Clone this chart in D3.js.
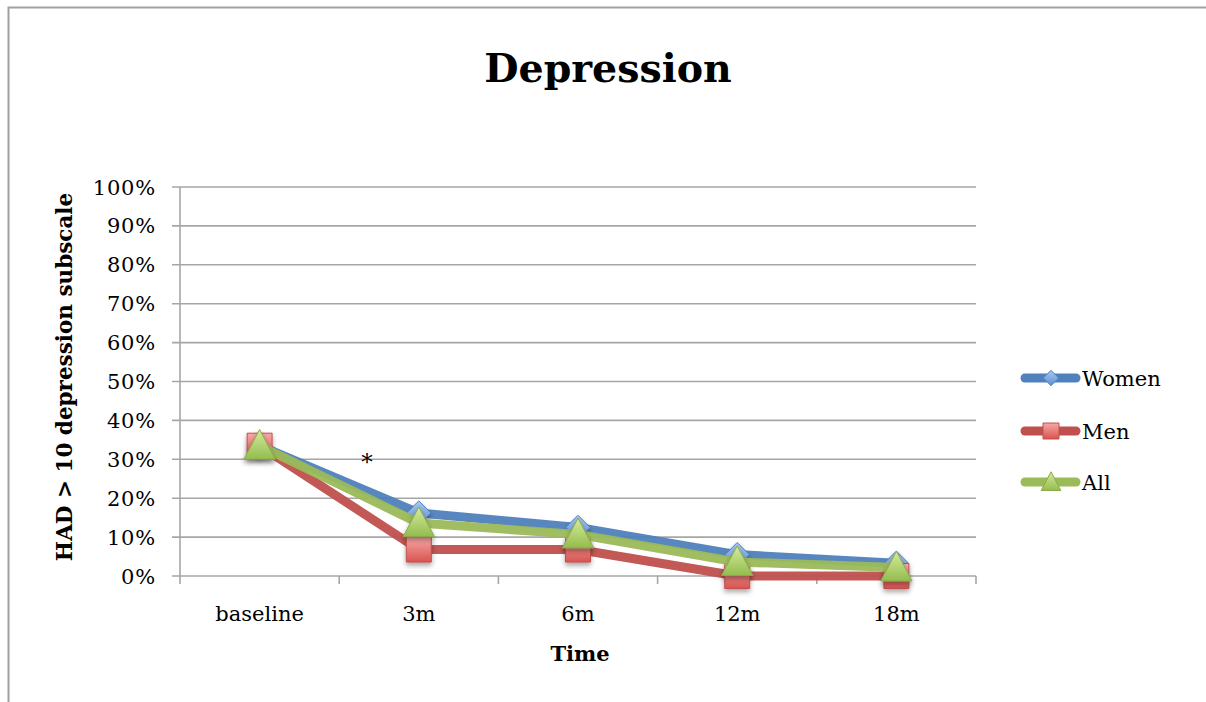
<!DOCTYPE html>
<html><head><meta charset="utf-8">
<script src="https://cdn.jsdelivr.net/npm/d3@7"></script>
<style>body{margin:0;background:#fff}svg{display:block}</style>
</head><body>
<script>
const categories = ["baseline","3m","6m","12m","18m"];
const women = [0.335,0.162,0.125,0.055,0.033];
const men = [0.335,0.068,0.068,0.0,0.0];
const all = [0.335,0.136,0.107,0.036,0.022];
const yTicks = [0,0.1,0.2,0.3,0.4,0.5,0.6,0.7,0.8,0.9,1.0];
const seriesNames = ["Women","Men","All"];

const W=1206,H=702;
const svg=d3.select("body").append("svg").attr("width",W).attr("height",H);
const defs=svg.append("defs");
function grad(id,c1,c2){const g=defs.append("linearGradient").attr("id",id).attr("x1",0).attr("y1",0).attr("x2",0).attr("y2",1);
g.append("stop").attr("offset","0%").attr("stop-color",c1);g.append("stop").attr("offset","100%").attr("stop-color",c2);}
grad("gW","#a9c8f0","#5d8fd3");
grad("gM","#f7a9a7","#d9534f");
grad("gA","#d6eb9c","#93bd4e");
const f=defs.append("filter").attr("id","sh").attr("x","-50%").attr("y","-50%").attr("width","200%").attr("height","200%");
f.append("feDropShadow").attr("dx",0).attr("dy",3).attr("stdDeviation",2.5).attr("flood-color","#000").attr("flood-opacity",0.35);

// frame
svg.append("path").attr("d","M8.5,702 V7.5 H1206").attr("fill","none").attr("stroke","#a0a0a0").attr("stroke-width",2);

const x=d3.scaleBand().domain(categories).range([180,976]);
const y=d3.scaleLinear().domain([0,1]).range([576,187]);
const serif="'DejaVu Serif','Liberation Serif',serif";

// gridlines
svg.append("g").selectAll("line").data(yTicks).join("line")
 .attr("x1",172).attr("x2",976).attr("y1",d=>y(d)).attr("y2",d=>y(d))
 .attr("stroke","#a6a6a6").attr("stroke-width",1.6);
// y axis line
svg.append("line").attr("x1",180).attr("x2",180).attr("y1",y(1)).attr("y2",584).attr("stroke","#a6a6a6").attr("stroke-width",1.6);
// x ticks
const xt=categories.map(c=>x(c)).concat([x.range()[1]]);
svg.append("g").selectAll("line").data(xt.slice(1)).join("line")
 .attr("x1",d=>d).attr("x2",d=>d).attr("y1",576).attr("y2",584).attr("stroke","#a6a6a6").attr("stroke-width",1.6);

// y tick labels
svg.append("g").selectAll("text").data(yTicks).join("text")
 .attr("x",156).attr("y",d=>y(d)).attr("dy","0.36em").attr("text-anchor","end")
 .attr("font-family",serif).attr("font-size",21).attr("letter-spacing",0.8).text(d3.format(".0%"));
// x labels
svg.append("g").selectAll("text").data(categories).join("text")
 .attr("x",d=>x(d)+x.bandwidth()/2).attr("y",621).attr("text-anchor","middle")
 .attr("font-family",serif).attr("font-size",21).text(d=>d);

// titles
svg.append("text").attr("x",608).attr("y",82).attr("text-anchor","middle").attr("font-family",serif)
 .attr("font-weight","bold").attr("font-size",39.5).text("Depression");
svg.append("text").attr("x",580).attr("y",661).attr("text-anchor","middle").attr("font-family",serif)
 .attr("font-weight","bold").attr("font-size",21).text("Time");
svg.append("text").attr("transform","translate(72,377) rotate(-90)").attr("text-anchor","middle").attr("font-family",serif)
 .attr("font-weight","bold").attr("font-size",21.5).text("HAD > 10 depression subscale");
svg.append("text").attr("x",367).attr("y",470).attr("text-anchor","middle").attr("font-family",serif).attr("font-size",23).text("*");

const cx=c=>x(c)+x.bandwidth()/2;
const series=[
 {name:"Women",vals:women,line:"#4f81bd",fill:"url(#gW)",stroke:"#4f81bd",shape:"diamond"},
 {name:"Men",vals:men,line:"#c0504d",fill:"url(#gM)",stroke:"#c0504d",shape:"square"},
 {name:"All",vals:all,line:"#9bbb59",fill:"url(#gA)",stroke:"#8aab4a",shape:"triangle"}
];
function markerPath(shape,s){
 if(shape==="diamond") return `M0,${-s*0.55} L${s*0.55},0 L0,${s*0.55} L${-s*0.55},0Z`;
 if(shape==="square") return `M${-s/2},${-s/2}H${s/2}V${s/2}H${-s/2}Z`;
 return `M0,${-s*0.6} L${s*0.58},${s*0.5} L${-s*0.58},${s*0.5}Z`;
}
const line=d3.line().x(d=>cx(d.c)).y(d=>y(d.v));
series.forEach(s=>{
 const pts=categories.map((c,i)=>({c,v:s.vals[i]}));
 const g=svg.append("g");
 g.append("path").attr("d",line(pts)).attr("fill","none").attr("stroke",s.line).attr("stroke-width",9).attr("stroke-linejoin","round").attr("opacity",0.95);
 const sz=s.shape==="square"?25:(s.shape==="diamond"?22:27);
 g.selectAll("path.m").data(pts).join("path").attr("class","m")
  .attr("transform",d=>`translate(${cx(d.c)},${y(d.v)})`).attr("d",markerPath(s.shape,sz))
  .attr("fill",s.fill).attr("stroke",s.stroke).attr("stroke-width",1).attr("filter","url(#sh)");
});

// legend
const ly=[378,431,482];
series.forEach((s,i)=>{
 const g=svg.append("g");
 g.append("line").attr("x1",1025).attr("x2",1076).attr("y1",ly[i]).attr("y2",ly[i]).attr("stroke",s.line).attr("stroke-width",9).attr("stroke-linecap","round");
 const sz=s.shape==="square"?16:(s.shape==="diamond"?14:17);
 g.append("path").attr("transform",`translate(1051,${ly[i]})`).attr("d",markerPath(s.shape,sz)).attr("fill",s.fill).attr("stroke",s.stroke).attr("stroke-width",1);
 g.append("text").attr("x",1082).attr("y",ly[i]).attr("dy","0.36em").attr("font-family",serif).attr("font-size",21).text(s.name);
});
</script>
</body></html>
